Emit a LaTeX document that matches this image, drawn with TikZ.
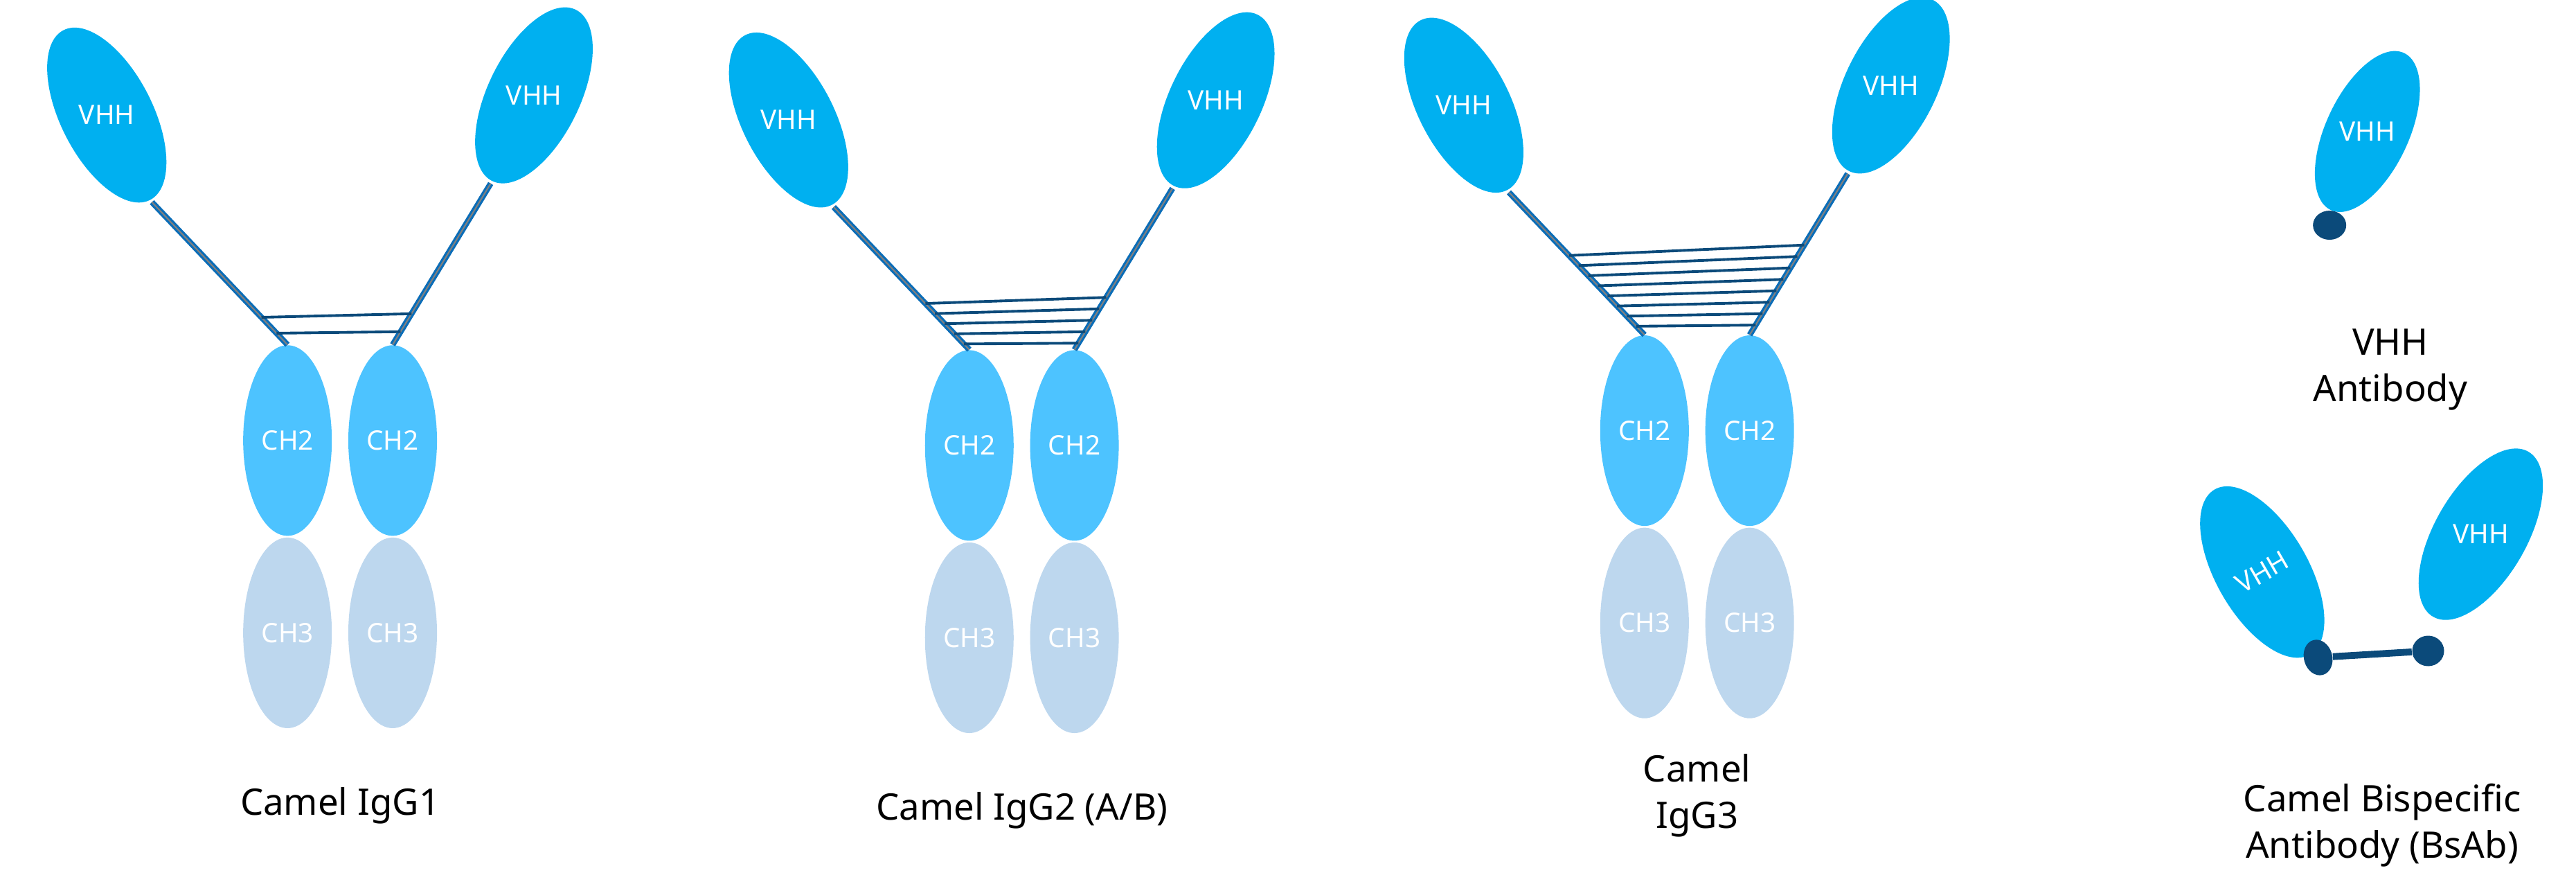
\documentclass[tikz,border=0pt]{standalone}
\usepackage{fontspec}
\setmainfont{Noto Sans}
\usetikzlibrary{shapes.geometric,calc}

\definecolor{vhhblue}{HTML}{00B0F0}
\definecolor{chtwo}{HTML}{4DC3FF}
\definecolor{chthree}{HTML}{BDD7EE}
\definecolor{bonddark}{HTML}{0B4A7A}
\definecolor{hingeblue}{HTML}{0A6DB8}

\tikzset{
  vhh/.style={ellipse, fill=vhhblue, inner sep=0pt, minimum width=13.3mm,
    minimum height=27.5mm, text=white, font=\fontsize{11}{13}\selectfont},
  ch/.style={ellipse, inner sep=0pt, minimum width=12.8mm,
    minimum height=27.5mm, text=white, font=\fontsize{11}{13}\selectfont},
  hinge/.style={draw=hingeblue, line width=0.9pt, double=gray,
    double distance=0.6pt, shorten <=1pt},
  bond/.style={draw=bonddark, line width=1.1pt},
  dot/.style={ellipse, fill=bonddark, inner sep=0pt, minimum width=4.8mm,
    minimum height=4.2mm},
  caption/.style={align=center, font=\fontsize{15}{19}\selectfont}
}

\begin{document}
\begin{tikzpicture}[x=0.2372mm, y=-0.2372mm]
  \useasboundingbox (0,0) rectangle (1568,542);

  % the three camel antibodies: shift x / shift y / name / bond positions / caption
  \foreach \dx/\dy/\n/\bonds/\cap in {
      0/0/a/{0.81,0.92}/{Camel IgG1},
      415/3/b/{0.68,0.75,0.82,0.89,0.96}/{Camel IgG2 (A/B)},
      826/-6/c/{0.45,0.52,0.59,0.66,0.73,0.80,0.87,0.94}/{Camel\\IgG3}} {
    \begin{scope}[shift={(\dx,\dy)}]
      % constant domains
      \node[ch, fill=chthree] (\n l3) at (175,385) {CH3};
      \node[ch, fill=chthree] (\n r3) at (239,385) {CH3};
      \node[ch, fill=chtwo] (\n l2) at (175,268) {CH2};
      \node[ch, fill=chtwo] (\n r2) at (239,268) {CH2};
      % variable domains
      \node[vhh, rotate=27] (\n lv) at (65,70) {\rotatebox{-27}{VHH}};
      \node[vhh, rotate=-26] (\n rv) at (325,58) {\rotatebox{26}{VHH}};
      % hinges
      \draw[hinge] (\n lv.south) -- (\n l2.north);
      \draw[hinge] (\n rv.south) -- (\n r2.north);
      % disulfide bonds
      \foreach \t in \bonds {
        \draw[bond] ($(\n lv.south)!\t!(\n l2.north)$) -- ($(\n rv.south)!\t!(\n r2.north)$);
      }
      \node[caption] (\n cap) at (207,490) {\cap};
    \end{scope}
  }

  % single VHH antibody
  \node[vhh, rotate=-25, minimum width=12mm, minimum height=25mm] (sv) at (1441,80) {\rotatebox{25}{VHH}};
  \node[dot] (svdot) at (1418,137) {};
  \node[caption] (svcap) at (1455,225) {VHH\\Antibody};

  % bispecific antibody
  \node[vhh, rotate=30] (bl) at (1377,348) {VHH};
  \node[vhh, rotate=-30] (br) at (1510,325) {\rotatebox{30}{VHH}};
  \node[dot, rotate=15, minimum width=4.1mm, minimum height=5.2mm] (bldot) at (1411,400) {};
  \node[dot, minimum width=4.6mm, minimum height=4.4mm] (brdot) at (1478,396) {};
  \draw[bonddark, line width=2.8pt] (bldot) -- (brdot);
  \node[caption] (bscap) at (1450,502) {Camel Bispecific\\Antibody (BsAb)};
\end{tikzpicture}
\end{document}
